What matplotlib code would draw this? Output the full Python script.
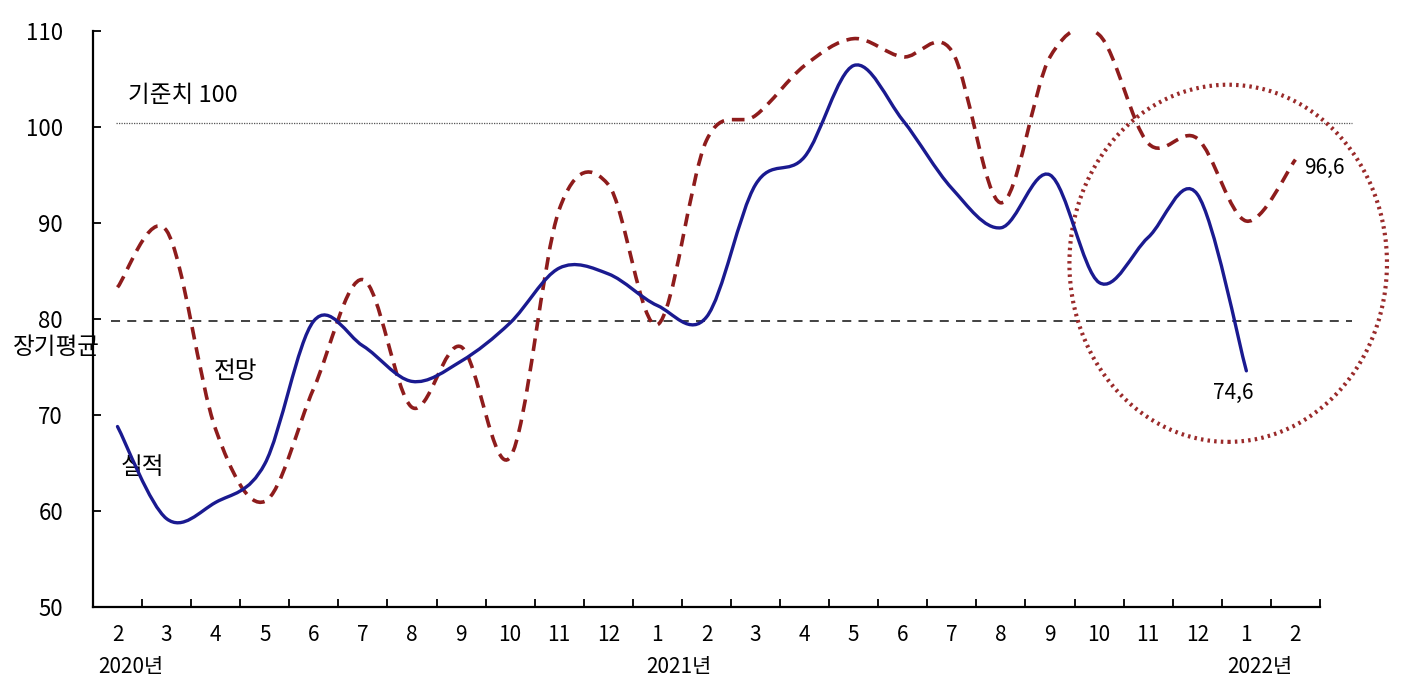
import matplotlib
matplotlib.use("Agg")
import matplotlib.pyplot as plt
from matplotlib.path import Path
from matplotlib.patches import PathPatch, Ellipse

plt.rcParams['font.family'] = ['Noto Sans CJK KR', 'DejaVu Sans']

# months: 2020.2 .. 2022.2
month_labels = ["2", "3", "4", "5", "6", "7", "8", "9", "10", "11", "12",
                "1", "2", "3", "4", "5", "6", "7", "8", "9", "10", "11", "12",
                "1", "2"]
year_labels = ["2020년", "2021년", "2022년"]
year_pos = [0.27, 11.43, 23.27]

# 실적 (actual), ends at 2022.1
actual = [68.8, 59.2, 60.9, 64.9, 79.8, 77.2, 73.5, 75.6, 79.6, 85.3, 84.7,
          81.4, 80.2, 94.0, 96.9, 106.4, 100.7, 93.6, 89.5, 95.0, 83.8, 88.5,
          93.0, 74.6]
# 전망 (outlook), ends at 2022.2
outlook = [83.3, 89.2, 68.5, 61.0, 72.8, 84.1, 70.8, 77.1, 65.6, 91.4, 94.0,
           79.4, 98.6, 101.2, 106.4, 109.2, 107.3, 107.9, 92.1, 107.3, 109.6,
           98.3, 98.8, 90.2, 96.6]

base_line = 100.4
long_avg = 79.8


def smooth_path(xs, ys):
    # excel-like smoothed line: cubic bezier through every point
    n = len(xs)
    verts = [(xs[0], ys[0])]
    codes = [Path.MOVETO]
    for i in range(n - 1):
        x0, y0 = (xs[i - 1], ys[i - 1]) if i > 0 else (xs[i], ys[i])
        x1, y1 = xs[i], ys[i]
        x2, y2 = xs[i + 1], ys[i + 1]
        x3, y3 = (xs[i + 2], ys[i + 2]) if i + 2 < n else (x2, y2)
        c1 = (x1 + (x2 - x0) / 6.0, y1 + (y2 - y0) / 6.0)
        c2 = (x2 - (x3 - x1) / 6.0, y2 - (y3 - y1) / 6.0)
        verts += [c1, c2, (x2, y2)]
        codes += [Path.CURVE4] * 3
    return Path(verts, codes)


fig = plt.figure(figsize=(14.02, 6.88), dpi=100)
ax = fig.add_axes([0.0663, 0.1177, 0.8752, 0.8373])

blue = "#1a1a90"
red = "#8e1c1c"

ax.plot([-0.14, 25.16], [long_avg, long_avg], color="#333333", lw=1.3,
        ls=(0, (5, 4)), clip_on=False, zorder=1)
ax.plot([-0.04, 25.16], [base_line, base_line], color="#555555", lw=0.9,
        ls=(0, (1, 1)), clip_on=False, zorder=1)

xa = list(range(len(actual)))
xo = list(range(len(outlook)))
ax.add_patch(PathPatch(smooth_path(xo, outlook), fill=False, edgecolor=red,
                       lw=2.6, ls=(0, (3.5, 2.2)), zorder=3))
ax.add_patch(PathPatch(smooth_path(xa, actual), fill=False, edgecolor=blue,
                       lw=2.4, zorder=4, capstyle='round'))

ax.add_patch(Ellipse((22.63, 85.8), 6.47, 37.2, fill=False, edgecolor="#9a2a2a",
                     lw=3, ls=(0, (0.6, 1.0)), clip_on=False, zorder=2))

ax.set_xlim(-0.5, 24.5)
ax.set_ylim(50, 110)
ax.set_yticks(range(50, 111, 10))
ax.set_xticks([i + 0.5 for i in range(-1, 25)])
ax.set_xticklabels([])
ax.set_xticks(range(len(month_labels)), minor=True)
ax.set_xticklabels(month_labels, minor=True)
ax.tick_params(axis='x', which='major', direction='in', length=6, width=1.3)
ax.tick_params(axis='x', which='minor', length=0, pad=12, labelsize=15)
ax.tick_params(axis='y', direction='in', length=6, width=1.3, pad=21.5,
               labelsize=16)

for side in ["top", "right"]:
    ax.spines[side].set_visible(False)
for side in ["left", "bottom"]:
    ax.spines[side].set_linewidth(1.6)

for lab, pos in zip(year_labels, year_pos):
    ax.text(pos, 43.8, lab, ha='center', va='center', fontsize=15, clip_on=False)

ax.text(0.22, 103.3, "기준치 100", fontsize=17, va='center', ha='left')
ax.text(-1.25, 77.0, "장기평균", fontsize=17, va='center', ha='center', clip_on=False)
ax.text(2.4, 74.5, "전망", fontsize=17, va='center', ha='center')
ax.text(0.5, 64.5, "실적", fontsize=17, va='center', ha='center')
ax.text(24.18, 95.7, "96,6", fontsize=15, va='center', ha='left', clip_on=False)
ax.text(22.73, 72.3, "74,6", fontsize=15, va='center', ha='center')

fig.savefig("out.png", dpi=100)
